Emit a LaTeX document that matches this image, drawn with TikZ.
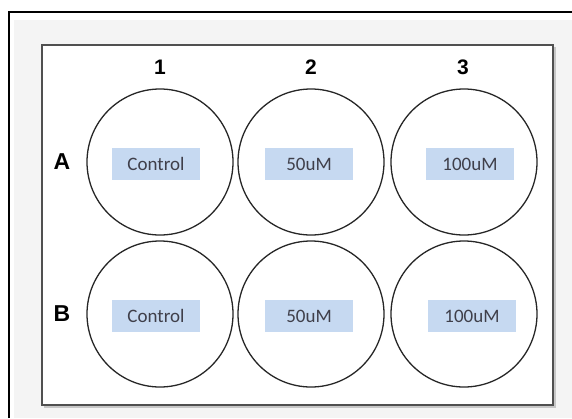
\documentclass[tikz,border=0pt]{standalone}
\usepackage{fontspec}
\setmainfont{Liberation Sans}
\newfontfamily\calfont{Carlito}
\definecolor{framegray}{HTML}{505050}
\definecolor{shadegray}{HTML}{F4F4F4}
\definecolor{tagblue}{HTML}{C6D9F1}
\definecolor{tagtext}{HTML}{3F3F4A}
\begin{document}
\begin{tikzpicture}[x=1pt,y=-1pt,
  well/.style={circle,draw=black!85,line width=1.3pt,minimum size=146pt,inner sep=0pt},
  tag/.style={fill=tagblue,minimum width=88pt,minimum height=32pt,inner sep=0pt,
    font=\calfont\fontsize{19}{21}\selectfont,text=tagtext},
  colhead/.style={font=\bfseries\fontsize{21}{24}\selectfont},
  rowhead/.style={font=\bfseries\fontsize{23}{26}\selectfont}]
  \useasboundingbox (0,0) rectangle (572,418);
  \fill[white] (0,0) rectangle (572,418);
  % faint grey margin inside the outer frame
  \fill[shadegray] (14,20) rectangle (572,418);
  \draw[line width=1.2pt] (9,418) -- (9,12) -- (572,12);
  % plate outline with a soft shadow
  \fill[black!22] (44,47) rectangle (556,408);
  \fill[white] (42,45) rectangle (553,405);
  \draw[framegray,line width=1.6pt] (42,45) rectangle (553,405);
  % column and row headings
  \node[colhead] (c1) at (160,67) {1};
  \node[colhead] (c2) at (311,67) {2};
  \node[colhead] (c3) at (463,67) {3};
  \node[rowhead] (rA) at (62,162) {A};
  \node[rowhead] (rB) at (62,314) {B};
  % wells
  \node[well] (a1) at (160,162) {};
  \node[well] (a2) at (311,162) {};
  \node[well] (a3) at (464,162) {};
  \node[well] (b1) at (160,314) {};
  \node[well] (b2) at (311,314) {};
  \node[well] (b3) at (464,314) {};
  % treatment tags
  \node[tag] (ta1) at (156,164) {Control};
  \node[tag] (ta2) at (309,164) {50uM};
  \node[tag] (ta3) at (470,164) {100uM};
  \node[tag] (tb1) at (156,316) {Control};
  \node[tag] (tb2) at (309,316) {50uM};
  \node[tag] (tb3) at (472,316) {100uM};
\end{tikzpicture}
\end{document}
